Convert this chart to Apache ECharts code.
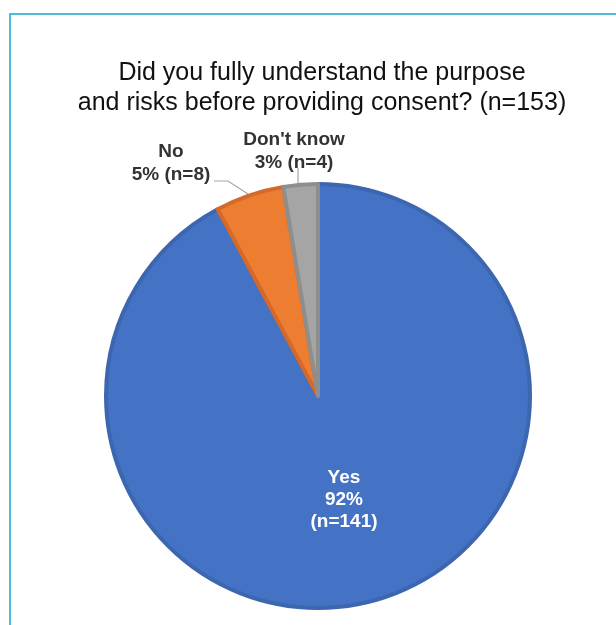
<!DOCTYPE html>
<html>
<head>
<meta charset="utf-8">
<script src="https://cdn.jsdelivr.net/npm/echarts@6/dist/echarts.min.js"></script>
<style>
  html, body { margin: 0; padding: 0; background: #fff; }
  #chart { width: 616px; height: 625px; }
</style>
</head>
<body>
<div id="chart"></div>
<script>
var categories = ['Yes', 'No', "Don't know"];
var counts = [141, 8, 4];
var percents = ['92%', '5%', '3%'];
var colors = ['#4472C4', '#ED7D31', '#A5A5A5'];
var borders = ['#3D66B0', '#D4692A', '#8E8E8E'];

var chartDom = document.getElementById('chart');
var myChart = echarts.init(chartDom);
var option;

var data = categories.map(function (c, i) {
  return {
    name: c,
    value: counts[i],
    itemStyle: { color: colors[i], borderColor: borders[i] }
  };
});

// Yes label sits inside the pie in white
data[0].label = { color: '#ffffff', fontSize: 19, lineHeight: 22 };
data[0].labelLine = { show: false };

option = {
  animation: false,
  graphic: [
    {
      type: 'rect',
      shape: { x: 10, y: 14, width: 700, height: 700 },
      style: { fill: 'none', stroke: '#1BA1D8', lineWidth: 1.5 },
      silent: true
    }
  ],
  title: {
    text: 'Did you fully understand the purpose\nand risks before providing consent? (n=153)',
    left: 317,
    top: 53,
    textAlign: 'center',
    textStyle: {
      fontFamily: 'Liberation Sans, Arial',
      fontSize: 25,
      fontWeight: 'normal',
      color: '#111111',
      lineHeight: 30
    }
  },
  series: [
    {
      type: 'pie',
      center: [318, 396],
      radius: [0, 212],
      startAngle: 90,
      clockwise: true,
      itemStyle: { borderWidth: 4 },
      label: {
        show: true,
        fontFamily: 'Liberation Sans, Arial',
        fontWeight: 'bold',
        fontSize: 19,
        lineHeight: 23,
        color: '#333333',
        formatter: function (p) {
          var i = p.dataIndex;
          if (i === 0) return p.name + '\n' + percents[i] + '\n(n=' + p.value + ')';
          return p.name + '\n' + percents[i] + ' (n=' + p.value + ')';
        }
      },
      labelLine: {
        show: true,
        lineStyle: { color: '#A6A6A6', width: 1.2 }
      },
      labelLayout: function (params) {
        var i = params.dataIndex;
        if (i === 0) {
          return { x: 344, y: 500, align: 'center', verticalAlign: 'middle' };
        }
        if (i === 1) {
          return {
            x: 171, y: 163, align: 'center', verticalAlign: 'middle',
            labelLinePoints: [[248, 194], [228, 181], [214, 181]]
          };
        }
        return {
          x: 294, y: 151, align: 'center', verticalAlign: 'middle',
          labelLinePoints: [[298, 186], [298, 178], [298, 168]]
        };
      },
      emphasis: { disabled: true },
      data: data
    }
  ]
};

option && myChart.setOption(option);
</script>
</body>
</html>
